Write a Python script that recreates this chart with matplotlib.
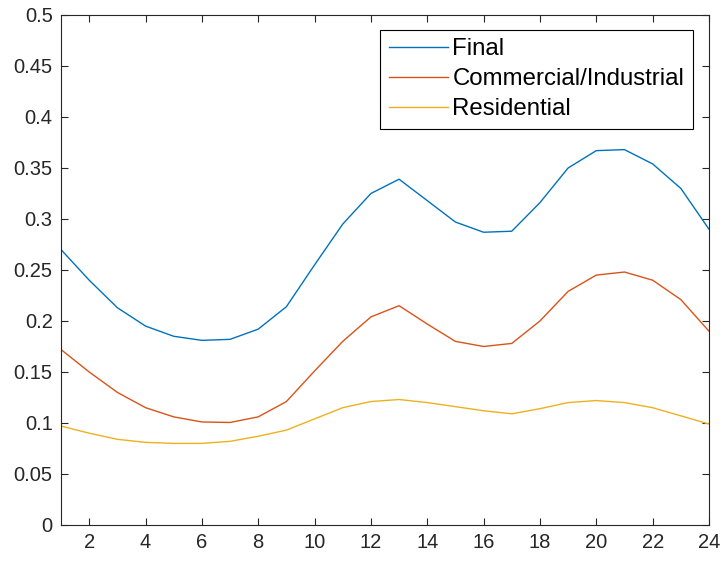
import matplotlib
matplotlib.use("Agg")
import matplotlib.pyplot as plt

# hourly load shares
hours = list(range(1, 25))
final = [0.270, 0.240, 0.213, 0.195, 0.185, 0.181, 0.182, 0.192, 0.214, 0.255,
         0.295, 0.325, 0.339, 0.318, 0.297, 0.287, 0.288, 0.316, 0.350, 0.367,
         0.368, 0.354, 0.330, 0.290]
commercial = [0.172, 0.150, 0.130, 0.115, 0.106, 0.101, 0.1005, 0.106, 0.121, 0.151,
              0.180, 0.204, 0.215, 0.197, 0.180, 0.175, 0.178, 0.200, 0.229, 0.245,
              0.248, 0.240, 0.221, 0.190]
residential = [0.097, 0.090, 0.084, 0.081, 0.080, 0.080, 0.082, 0.087, 0.093, 0.104,
               0.115, 0.121, 0.123, 0.120, 0.116, 0.112, 0.109, 0.114, 0.120, 0.122,
               0.120, 0.115, 0.107, 0.099]
labels = ["Final", "Commercial/Industrial", "Residential"]
colors = ["#0072BD", "#D95319", "#EDB120"]

xticks = list(range(2, 25, 2))
yticks = [0, 0.05, 0.1, 0.15, 0.2, 0.25, 0.3, 0.35, 0.4, 0.45, 0.5]

plt.rcParams["font.family"] = ["Liberation Sans", "DejaVu Sans"]
dark = "#262626"

fig = plt.figure(figsize=(7.23, 5.61), dpi=100)
ax = fig.add_axes([0.0844, 0.0642, 0.8962, 0.9091])

for ys, lab, c in zip([final, commercial, residential], labels, colors):
    ax.plot(hours, ys, color=c, linewidth=1.0, label=lab)

ax.set_xlim(1, 24)
ax.set_ylim(0, 0.5)
ax.set_xticks(xticks)
ax.set_yticks(yticks)
ax.set_yticklabels(["0", "0.05", "0.1", "0.15", "0.2", "0.25", "0.3",
                    "0.35", "0.4", "0.45", "0.5"])
ax.tick_params(direction="in", length=5, width=0.8, top=True, right=True,
               labelsize=14.5, colors=dark, labelcolor=dark, pad=6)
for s in ax.spines.values():
    s.set_color(dark)
    s.set_linewidth(0.8)

leg = ax.legend(loc="upper right", bbox_to_anchor=(0.975, 0.9706),
                borderaxespad=0, fontsize=17.3, fancybox=False, framealpha=1,
                edgecolor="black", handlelength=2.45, handletextpad=0.2,
                labelspacing=0.33, borderpad=0.35)
leg.get_frame().set_linewidth(0.8)
for t in leg.get_texts():
    t.set_color("black")

fig.savefig("out.png", dpi=100)
